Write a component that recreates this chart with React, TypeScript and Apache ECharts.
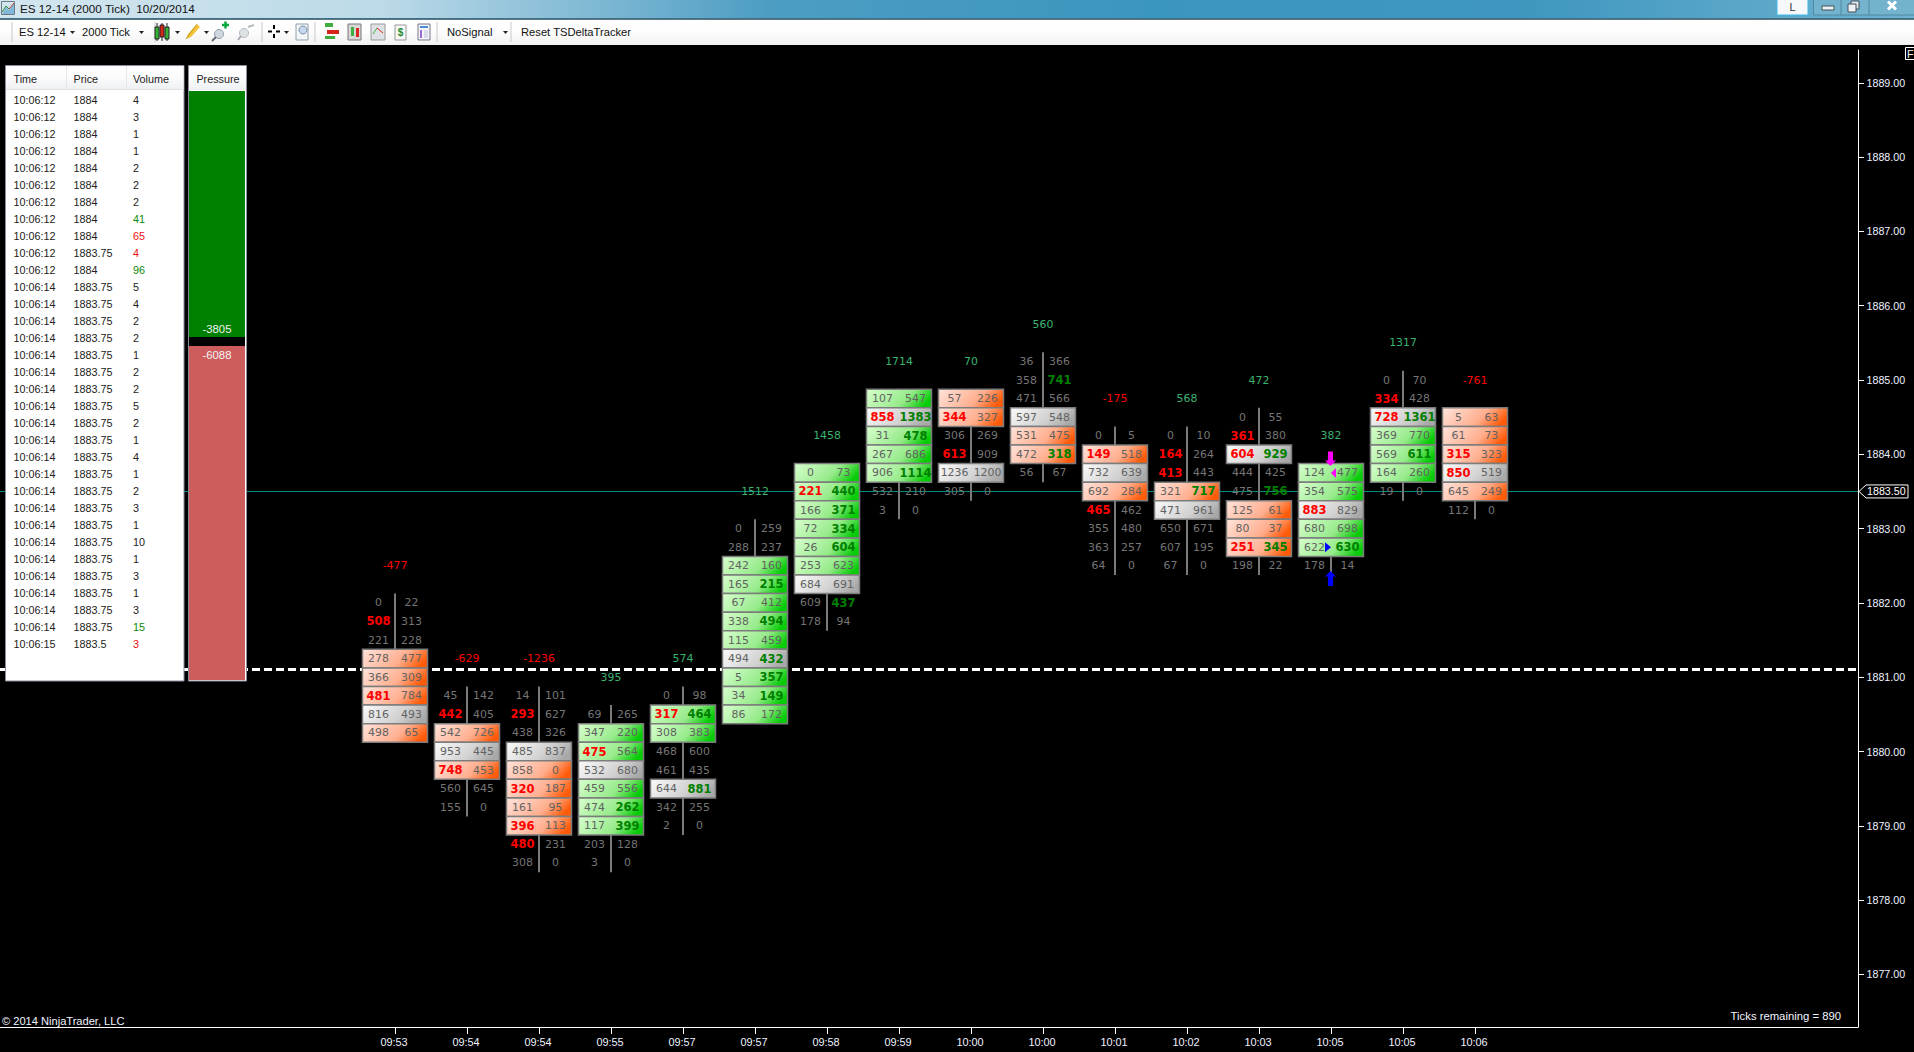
import React, { useEffect, useRef } from "react";
import * as echarts from "echarts";

// ---------- footprint data: "bid ask fill", "!" = bold imbalance, fill r/g/w = body cell ----------
const times = ["09:53","09:54","09:54","09:55","09:57","09:57","09:58","09:59","10:00","10:00","10:01","10:02","10:03","10:05","10:05","10:06"];
const deltas = [-477,-629,-1236,395,574,1512,1458,1714,70,560,-175,568,472,382,1317,-761];
const topPrices = [1882,1880.75,1880.75,1880.5,1880.75,1883,1883.75,1884.75,1884.75,1885.25,1884.25,1884.25,1884.5,1883.75,1885,1884.5];
const bar0 = ["0 22","508! 313","221 228","278 477 r","366 309 r","481! 784 r","816 493 w","498 65 r"];
const bar1 = ["45 142","442! 405","542 726 r","953 445 w","748! 453 r","560 645","155 0"];
const bar2 = ["14 101","293! 627","438 326","485 837 w","858 0 r","320! 187 r","161 95 r","396! 113 r","480! 231","308 0"];
const bar3 = ["69 265","347 220 g","475! 564 g","532 680 w","459 556 g","474 262! g","117 399! g","203 128","3 0"];
const bar4 = ["0 98","317! 464! g","308 383 g","468 600","461 435","644 881! w","342 255","2 0"];
const bar5 = ["0 259","288 237","242 160 g","165 215! g","67 412 g","338 494! g","115 459 g","494 432! w","5 357! g","34 149! g","86 172 g"];
const bar6 = ["0 73 g","221! 440! g","166 371! g","72 334! g","26 604! g","253 623 g","684 691 w","609 437!","178 94"];
const bar7 = ["107 547 g","858! 1383! w","31 478! g","267 686 g","906 1114! g","532 210","3 0"];
const bar8 = ["57 226 r","344! 327 r","306 269","613! 909","1236 1200 w","305 0"];
const bar9 = ["36 366","358 741!","471 566","597 548 w","531 475 r","472 318! r","56 67"];
const bar10 = ["0 5","149! 518 r","732 639 w","692 284 r","465! 462","355 480","363 257","64 0"];
const bar11 = ["0 10","164! 264","413! 443","321 717! r","471 961 w","650 671","607 195","67 0"];
const bar12 = ["0 55","361! 380","604! 929! w","444 425","475 756!","125 61 r","80 37 r","251! 345! r","198 22"];
const bar13 = ["124 477 g","354 575 g","883! 829 w","680 698 g","622 630! g","178 14"];
const bar14 = ["0 70","334! 428","728! 1361! w","369 770 g","569 611! g","164 260 g","19 0"];
const bar15 = ["5 63 r","61 73 r","315! 323 r","850! 519 w","645 249 r","112 0"];
const bars = [bar0,bar1,bar2,bar3,bar4,bar5,bar6,bar7,bar8,bar9,bar10,bar11,bar12,bar13,bar14,bar15];

// ---------- price levels ----------
const yTicks = [1877,1878,1879,1880,1881,1882,1883,1884,1885,1886,1887,1888,1889];
const lastPrice = 1883.5;
const dashedLevel = 1881.106;

// ---------- time & sales tape ----------
const tapeTimes = ["10:06:12","10:06:12","10:06:12","10:06:12","10:06:12","10:06:12","10:06:12","10:06:12","10:06:12","10:06:12","10:06:12","10:06:14","10:06:14","10:06:14","10:06:14","10:06:14","10:06:14","10:06:14","10:06:14","10:06:14","10:06:14","10:06:14","10:06:14","10:06:14","10:06:14","10:06:14","10:06:14","10:06:14","10:06:14","10:06:14","10:06:14","10:06:14","10:06:15"];
const tapePrices = ["1884","1884","1884","1884","1884","1884","1884","1884","1884","1883.75","1884","1883.75","1883.75","1883.75","1883.75","1883.75","1883.75","1883.75","1883.75","1883.75","1883.75","1883.75","1883.75","1883.75","1883.75","1883.75","1883.75","1883.75","1883.75","1883.75","1883.75","1883.75","1883.5"];
const tapeVolumes = [4,3,1,1,2,2,2,41,65,4,96,5,4,2,2,1,2,2,5,2,1,4,1,2,3,1,10,1,3,1,3,15,3];
const tapeGreenRows = [7,10,31];
const tapeRedRows = [8,9,32];
const tapeHeaders = ["Time","Price","Volume"];

// ---------- pressure widget ----------
const pressureLabels = [-3805,-6088];
const pressureHeights = [246,9,334];

const VERDANA = '"DejaVu Sans", Verdana, sans-serif';
const SANS = '"Liberation Sans", Arial, sans-serif';
const CELL_GRAY = "#757575";
const CELL_GRAY_FILLED = "#626262";
const GRADS: any = {
  g: ["#d8ffcf", "#96ea8a", "#96ea8a", "#08cc08"],
  r: ["#ffe4dc", "#ffae8e", "#ffae8e", "#ff5a08"],
  w: ["#fbfbfb", "#d0d0d0", "#d0d0d0", "#a8a8a8"],
};

type Cell = { col: number; price: number; bid: string; ask: string; fill: string };
const cells: Cell[] = [];
bars.forEach((rows, col) => {
  rows.forEach((row, i) => {
    const [bid, ask, fill] = row.split(" ");
    cells.push({ col, price: topPrices[col] - i * 0.25, bid, ask, fill: fill || "" });
  });
});

function cellText(raw: string, x: number, y: number) {
  const bold = raw.endsWith("!");
  return { raw, bold, x, y };
}

function txt(text: string, x: number, y: number, fill = "#222", align = "left", font = `10.8px ${SANS}`, z = 52) {
  return { type: "text", z, silent: true, style: { text, x, y, fill, font, align, verticalAlign: "middle" } };
}
function rect(x: number, y: number, w: number, h: number, fill: any, z = 50, stroke?: string) {
  return { type: "rect", z, silent: true, shape: { x, y, width: w, height: h }, style: { fill, stroke, lineWidth: stroke ? 1 : 0 } };
}
function seg(x1: number, y1: number, x2: number, y2: number, stroke: string, lineWidth = 1, z = 53) {
  return { type: "line", z, silent: true, shape: { x1, y1, x2, y2 }, style: { stroke, lineWidth } };
}
function poly(points: number[][], fill: string, z = 53) {
  return { type: "polygon", z, silent: true, shape: { points }, style: { fill } };
}
const linear = (x2: number, y2: number, stops: string[]) => ({
  type: "linear", x: 0, y: 0, x2, y2,
  colorStops: stops.map((color, i) => ({ offset: i / (stops.length - 1), color })),
});
const cellGradient = (stops: string[]) => ({
  type: "linear", x: 0, y: 0, x2: 1.05, y2: 0.29,
  colorStops: [
    { offset: 0, color: stops[0] },
    { offset: 0.66, color: stops[1] },
    { offset: 1, color: stops[3] },
  ],
});

function chrome(): any[] {
  const e: any[] = [];
  // title bar
  e.push(rect(0, 0, 1914, 18, linear(1, 0, ["#d3e6ef", "#bcdae8", "#4d9dc3", "#3b96bf", "#3f97c0", "#6fb2cf"])));
  e.push(rect(0, 18, 1914, 1.5, "#3d6f86", 51));
  e.push(rect(0, 19.5, 1914, 25.5, linear(0, 1, ["#ffffff", "#fdfdfd", "#f1f1f1"])));
  e.push(poly([[2,14],[6,7],[9,10],[14,3],[14,14]], "#7fb8d8"));
  e.push(seg(2, 12, 6, 6, "#2c8a35", 1));
  e.push(seg(6, 6, 9, 9, "#2c8a35", 1));
  e.push(seg(9, 9, 14, 3, "#c0392b", 1));
  e.push(rect(1.5, 1.5, 13, 13, "none", 53, "#6d7b85"));
  e.push(txt("ES 12-14 (2000 Tick)  10/20/2014", 20, 8.5, "#111", "left", `11.7px ${SANS}`));
  // window buttons
  e.push(rect(1777, -2, 31, 17, "#f6f8fa", 52, "#3fb8e8"));
  e.push(txt("L", 1792.5, 7, "#333", "center", `11px ${SANS}`));
  e.push(rect(1813.5, -2, 101, 17, "#74b3ce", 52, "#4f88a2"));
  e.push(seg(1841, 0, 1841, 15, "#4f88a2"));
  e.push(seg(1869, 0, 1869, 15, "#4f88a2"));
  e.push(rect(1822, 6, 12, 4, "#eef2f4", 53, "#40505a"));
  e.push(rect(1851, 1, 8, 8, "#dfe7ea", 53, "#40505a"));
  e.push(rect(1848, 4, 8, 8, "#eef2f4", 53, "#40505a"));
  e.push(seg(1888, 1.5, 1896, 9.5, "#ffffff", 3));
  e.push(seg(1896, 1.5, 1888, 9.5, "#ffffff", 3));
  // toolbar text
  const bar = `11.2px ${SANS}`;
  e.push(txt("ES 12-14", 19, 32, "#111", "left", bar));
  e.push(txt("2000 Tick", 82, 32, "#111", "left", bar));
  e.push(txt("NoSignal", 447, 32, "#111", "left", bar));
  e.push(txt("Reset TSDeltaTracker", 521, 32, "#111", "left", bar));
  [12, 155, 262, 315, 437, 511].forEach((x) => e.push(seg(x, 22, x, 42, "#c9c9c9")));
  [70, 139, 175, 204, 284, 503].forEach((x) => e.push(poly([[x, 31], [x + 5, 31], [x + 2.5, 34]], "#222")));
  // candles
  [[157, "#35b335"], [162, "#d8261c"], [167, "#35b335"]].forEach(([x, c]: any, i) => {
    e.push(seg(x, 23, x, 41, "#222"));
    e.push(rect(x - 2, i === 1 ? 25 : 27, 4, 12, c, 53, "#222"));
  });
  // pencil
  e.push(poly([[186, 39], [188, 34], [197, 24], [200, 27], [191, 37]], "#f3c33c"));
  e.push(seg(186, 39, 197, 24, "#9a7a10", 0.6));
  // zoom in / out
  e.push({ type: "circle", z: 53, silent: true, shape: { cx: 219, cy: 34, r: 4.5 }, style: { fill: "#cfd8de", stroke: "#90a0aa" } });
  e.push(seg(216, 37, 212, 41, "#667", 2));
  e.push(seg(222, 25, 229, 25, "#0aa83c", 2.5));
  e.push(seg(225.5, 21.5, 225.5, 28.5, "#0aa83c", 2.5));
  e.push({ type: "circle", z: 53, silent: true, shape: { cx: 244, cy: 33, r: 4.5 }, style: { fill: "#dde2e5", stroke: "#b5bcc0" } });
  e.push(seg(241, 36, 238, 40, "#aab", 2));
  e.push(seg(248, 27, 254, 25, "#b5bcc0", 2));
  // crosshair
  e.push(seg(268, 31.5, 272, 31.5, "#000", 2), seg(276, 31.5, 280, 31.5, "#000", 2));
  e.push(seg(274, 25, 274, 29, "#000", 2), seg(274, 34, 274, 38, "#000", 2));
  // magnifier page
  e.push(rect(296, 24, 12, 16, "#f4f6f8", 53, "#90a0aa"));
  e.push({ type: "circle", z: 54, silent: true, shape: { cx: 303, cy: 30, r: 4 }, style: { fill: "#c8d8ee", stroke: "#7890a8" } });
  // data-series / indicator / strategy / properties icons
  e.push(rect(325, 23, 8, 4, "#3fae3f", 53), rect(327, 30, 12, 4, "#d8261c", 53), rect(325, 36, 10, 3, "#3fae3f", 53));
  e.push(rect(348, 24, 13, 16, "#d8d8d8", 53, "#777"));
  e.push(rect(351, 27, 3, 9, "#3fae3f", 54), rect(356, 28, 3, 9, "#d8261c", 54));
  e.push(rect(371, 24, 14, 16, "#dfe2e4", 53, "#999"));
  e.push(seg(373, 34, 377, 28, "#3fae3f"), seg(377, 28, 383, 33, "#d8261c"));
  e.push(rect(395, 25, 11, 15, "#f8f8f8", 53, "#999"));
  e.push(txt("$", 400.5, 32.5, "#1c8a2c", "center", `bold 10px ${SANS}`, 54));
  e.push(rect(418, 24, 12, 16, "#f4f4fa", 53, "#778"));
  e.push(rect(420, 26, 8, 2, "#4a90d0", 54), rect(420, 30, 2, 8, "#9a6ad0", 54), rect(424, 30, 4, 8, "#d8dce8", 54));

  // tape panel
  e.push(rect(5.5, 65.5, 178.5, 615.5, "#ffffff", 50, "#8b8d9b"));
  e.push(rect(6, 66, 177.5, 23, linear(0, 1, ["#ffffff", "#fbfbfc", "#eef0f2"]), 51));
  e.push(seg(6, 89.5, 183.5, 89.5, "#dfe2e5", 1));
  e.push(seg(66.5, 66, 66.5, 89, "#e4e6e9"), seg(126.5, 66, 126.5, 89, "#e4e6e9"));
  [13.5, 73.5, 133].forEach((x, i) => e.push(txt(tapeHeaders[i], x, 79, "#222")));
  tapeVolumes.forEach((v, i) => {
    const y = 99.8 + i * 17;
    e.push(txt(tapeTimes[i], 13.5, y));
    e.push(txt(tapePrices[i], 73.5, y));
    const c = tapeGreenRows.includes(i) ? "#0a8a0a" : tapeRedRows.includes(i) ? "#f01010" : "#222";
    e.push(txt(String(v), 133, y, c));
  });
  // pressure panel
  e.push(rect(188.5, 65.5, 58, 615.5, "#ffffff", 50, "#8b8d9b"));
  e.push(rect(189, 66, 57, 24, linear(0, 1, ["#ffffff", "#fbfbfc", "#eef0f2"]), 51));
  e.push(txt("Pressure", 218, 79, "#222", "center"));

  // chart annotations
  e.push(txt("\u00a9 2014 NinjaTrader, LLC", 2, 1021, "#f2f4ff", "left", `11.1px ${SANS}`, 5));
  e.push(txt("Ticks remaining = 890", 1841, 1016, "#f2f4ff", "right", `11.3px ${SANS}`, 5));
  e.push(rect(1905.5, 47.5, 10, 12, "#000", 5, "#ffffff"));
  e.push(txt("F", 1907, 54, "#f2f4ff", "left", `10.8px ${SANS}`, 6));
  return e;
}

export default function App() {
  const ref = useRef<HTMLDivElement>(null);
  useEffect(() => {
    document.body.style.margin = "0";
    document.body.style.background = "#000";
    const chart = echarts.init(ref.current!, null, { renderer: "svg" });

    const stemData = bars.map((rows, col) => [col, topPrices[col] + 0.125, topPrices[col] - (rows.length - 1) * 0.25 - 0.125]);

    chart.setOption({
      animation: false,
      backgroundColor: "#000000",
      graphic: { elements: chrome() },
      grid: [
        { left: 0, top: 50, width: 1858, height: 977 },
        { left: 189, top: 91, width: 56, height: 589 },
      ],
      xAxis: [
        {
          type: "value",
          min: -395 / 72,
          max: (1858 - 395) / 72,
          splitLine: { show: false },
          axisLine: { show: true, onZero: false, lineStyle: { color: "#ffffff", width: 1 } },
          axisTick: { show: true, length: 7, lineStyle: { color: "#ffffff" }, customValues: times.map((_, i) => i) },
          axisLabel: {
            color: "#eef2ff",
            fontFamily: SANS,
            fontSize: 10.9,
            margin: 9,
            padding: [0, 2, 0, 0],
            customValues: times.map((_, i) => i),
            formatter: (v: number) => times[v] ?? "",
          },
        },
        { type: "category", gridIndex: 1, show: false, data: ["p"] },
      ],
      yAxis: [
        {
          type: "value",
          position: "right",
          min: 1884 - (1027 - 454.3) / 74.3,
          max: 1884 + (454.3 - 50) / 74.3,
          splitLine: { show: false },
          axisLine: { show: true, onZero: false, lineStyle: { color: "#ffffff", width: 1 } },
          axisTick: { show: true, length: 6, lineStyle: { color: "#ffffff" }, customValues: yTicks },
          axisLabel: {
            color: "#eef2ff",
            fontFamily: SANS,
            fontSize: 10.7,
            margin: 8.5,
            customValues: yTicks,
            formatter: (v: number) => v.toFixed(2),
          },
        },
        { type: "value", gridIndex: 1, show: false, inverse: true, min: 0, max: 589 },
      ],
      series: [
        {
          // price levels
          type: "line",
          data: [],
          z: 1,
          silent: true,
          markLine: {
            z: 1,
            silent: true,
            symbol: "none",
            animation: false,
            label: { show: false },
            data: [
              { yAxis: lastPrice, lineStyle: { color: "#008a80", width: 1, type: "solid" } },
              { yAxis: dashedLevel, lineStyle: { color: "#ffffff", width: 3, type: [8, 4] } },
            ],
          },
        },
        {
          // stems
          type: "custom",
          z: 2,
          silent: true,
          clip: false,
          data: stemData,
          encode: { x: 0, y: [1, 2] },
          renderItem: (_: any, api: any) => {
            const a = api.coord([api.value(0), api.value(1)]);
            const b = api.coord([api.value(0), api.value(2)]);
            return { type: "rect", shape: { x: a[0] - 1, y: a[1], width: 2, height: b[1] - a[1] }, style: { fill: "#7a7a7a" } };
          },
        },
        {
          // cells
          type: "custom",
          z: 3,
          silent: true,
          clip: false,
          data: cells.map((c) => [c.col, c.price]),
          encode: { x: 0, y: 1 },
          renderItem: (params: any, api: any) => {
            const c = cells[params.dataIndex];
            const p = api.coord([c.col, c.price]);
            const h = api.size([0, 0.25])[1];
            const children: any[] = [];
            if (c.fill) {
              children.push({
                type: "rect",
                shape: { x: p[0] - 32.5, y: p[1] - h / 2, width: 65, height: h },
                style: {
                  fill: cellGradient(GRADS[c.fill]),
                  stroke: "#7c7c7c",
                  lineWidth: 1.5,
                },
              });
            }
            [cellText(c.bid, p[0] - 16.5, p[1]), cellText(c.ask, p[0] + 16.5, p[1])].forEach((t, i) => {
              children.push({
                type: "text",
                style: {
                  text: t.raw.replace("!", ""),
                  x: t.x,
                  y: t.y,
                  align: "center",
                  verticalAlign: "middle",
                  fill: t.bold ? (i === 0 ? "#ff0000" : "#008000") : c.fill ? CELL_GRAY_FILLED : CELL_GRAY,
                  font: t.bold ? `bold 11.5px ${VERDANA}` : `10.9px ${VERDANA}`,
                },
              });
            });
            return { type: "group", children };
          },
        },
        {
          // delta labels
          type: "custom",
          z: 3,
          silent: true,
          clip: false,
          data: deltas.map((d, i) => [i, topPrices[i] + 0.5, d]),
          encode: { x: 0, y: 1 },
          renderItem: (_: any, api: any) => {
            const p = api.coord([api.value(0), api.value(1)]);
            const d = api.value(2);
            return {
              type: "text",
              style: {
                text: String(d),
                x: p[0],
                y: p[1],
                align: "center",
                verticalAlign: "middle",
                fill: d < 0 ? "#ff0000" : "#3cb371",
                font: `10.9px ${VERDANA}`,
              },
            };
          },
        },
        {
          // high / low / open / close markers on the running bar
          type: "custom",
          z: 4,
          silent: true,
          clip: false,
          data: [[13, 1883.875, 0], [13, 1883.75, 1], [13, 1882.75, 2], [13, 1882.375, 3]],
          encode: { x: 0, y: 1 },
          renderItem: (_: any, api: any) => {
            const p = api.coord([api.value(0), api.value(1)]);
            const x = p[0], y = p[1];
            const k = api.value(2);
            const shapes: number[][][] = [
              [[x - 3, y - 12], [x + 2, y - 12], [x + 2, y - 3], [x + 5, y - 3], [x - 0.5, y + 2.5], [x - 6, y - 3], [x - 3, y - 3]],
              [[x, y], [x + 5, y - 5], [x + 5, y + 5]],
              [[x - 6, y - 5], [x, y], [x - 6, y + 5]],
              [[x - 0.5, y - 4], [x + 5, y + 1.5], [x + 2, y + 1.5], [x + 2, y + 11], [x - 3, y + 11], [x - 3, y + 1.5], [x - 6, y + 1.5]],
            ];
            return { type: "polygon", shape: { points: shapes[k] }, style: { fill: k < 2 ? "#ff00ff" : "#0000ff" } };
          },
        },
        {
          // last price badge
          type: "custom",
          z: 4,
          silent: true,
          clip: false,
          data: [[(1858 - 395) / 72, lastPrice]],
          encode: { x: 0, y: 1 },
          renderItem: (_: any, api: any) => {
            const p = api.coord([api.value(0), api.value(1)]);
            const x = p[0], y = p[1];
            return {
              type: "group",
              children: [
                {
                  type: "polygon",
                  shape: { points: [[x + 1, y], [x + 8, y - 6.5], [x + 50, y - 6.5], [x + 50, y + 6.5], [x + 8, y + 6.5]] },
                  style: { fill: "#000", stroke: "#ffffff", lineWidth: 1 },
                },
                {
                  type: "text",
                  style: {
                    text: lastPrice.toFixed(2),
                    x: x + 9,
                    y,
                    align: "left",
                    verticalAlign: "middle",
                    fill: "#ffffff",
                    font: `10.7px ${SANS}`,
                  },
                },
              ],
            };
          },
        },
        ...pressureHeights.map((h, i) => ({
          type: "bar",
          xAxisIndex: 1,
          yAxisIndex: 1,
          stack: "pressure",
          barWidth: "100%",
          z: 60,
          silent: true,
          data: [h],
          itemStyle: { color: ["#008000", "#000000", "#cd5c5c"][i] },
          label:
            i === 1
              ? { show: false }
              : {
                  show: true,
                  position: i === 0 ? "insideBottom" : "insideTop",
                  distance: 3,
                  color: "#f4f4f4",
                  fontFamily: SANS,
                  fontSize: 11.3,
                  formatter: String(pressureLabels[i === 0 ? 0 : 1]),
                },
        })),
      ],
    } as any);
    return () => chart.dispose();
  }, []);
  return <div ref={ref} style={{ width: 1914, height: 1052, position: "absolute", left: 0, top: 0 }} />;
}
